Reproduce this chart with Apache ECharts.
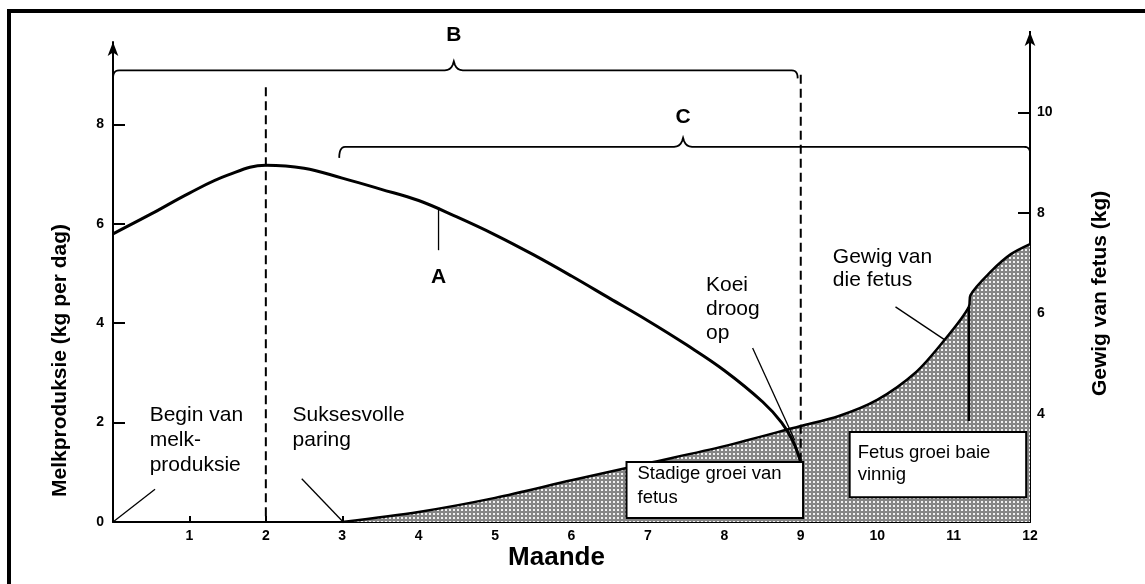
<!DOCTYPE html>
<html><head><meta charset="utf-8">
<script src="https://cdn.jsdelivr.net/npm/echarts@6/dist/echarts.min.js"></script>
<style>html,body{margin:0;padding:0;background:#fff}#c{width:1145px;height:584px}</style>
</head><body><div id="c"></div>
<script>
// ---- data ----
const milkMonths = [0,0.5,1,1.5,2,2.5,3,3.5,4,4.5,5,5.5,6,6.5,7,7.5,8,8.5,8.75,8.9,9];
const milkValues = [5.8,6.2,6.62,6.98,7.18,7.12,6.92,6.7,6.47,6.14,5.78,5.38,4.95,4.5,4.05,3.57,3.05,2.42,2.0,1.62,1.2];
const fetusMonths = [3,4,5,6,7,8,9,9.5,10,10.5,10.87,11.2,11.22,11.5,11.75,12];
const fetusKg = [1.85,2.05,2.33,2.68,3.02,3.36,3.76,3.96,4.28,4.82,5.45,6.13,6.36,6.85,7.18,7.38];
const milkTickLabels = [0,2,4,6,8];
const fetusTickLabels = [4,6,8,10];
const axisTitles = {x:'Maande', left:'Melkproduksie (kg per dag)', right:'Gewig van fetus (kg)'};
const dashedMarks = [[2, 8.75], [9, 9.0]];           // month, top (milk units)
const fetusMarkerLine = [11.2, 6.13, 3.86];           // month, top kg, bottom kg
const brackets = [
  {label:'B', from:0, to:8.96, mid:4.46, level:9.09, labelLevel:9.8, dropL:8, dropR:8},
  {label:'C', from:2.96, to:12, mid:7.46, level:7.55, labelLevel:8.15, dropL:11, dropR:6}
];
const annoTexts = ['Begin van\nmelk-\nproduksie','Suksesvolle\nparing','Koei\ndroog\nop','Gewig van\ndie fetus'];
const annoPos = [[0.48,2.40],[2.35,2.40],[7.76,5.01],[9.42,5.56]];
const annoLH = [25,25,24,23];
const leaders = [[[0,0],[0.55,0.66]],[[2.47,0.87],[3,0.02]],[[4.26,6.34],[4.26,5.47]],[[8.37,3.5],[8.92,1.65]],[[10.24,4.33],[10.89,3.66]]];
const labelA = {text:'A', pos:[4.26,4.93]};
const boxes = [
  {text:'Stadige groei van\nfetus', x0:6.72, x1:9.03, y0:1.21, y1:0.08, lh:24, pad:[11,0]},
  {text:'Fetus groei baie\nvinnig', x0:9.64, x1:11.95, y0:1.81, y1:0.5, lh:22, pad:[8,10]}
];

// ---- pattern ----
const pc = document.createElement('canvas');
pc.width = 4; pc.height = 4;
const pctx = pc.getContext('2d');
pctx.fillStyle = '#858585'; pctx.fillRect(0,0,4,4);
pctx.fillStyle = '#f0f0f0'; pctx.fillRect(1,1,2,2);

const FONT = '"Liberation Sans", Arial, sans-serif';
const chart = echarts.init(document.getElementById('c'), null, {renderer:'canvas'});

const zip = (a,b) => a.map((v,i)=>[v,b[i]]);
const series = [
  {type:'line', yAxisIndex:1, data:zip(fetusMonths,fetusKg), smooth:0.3, symbol:'none',
   lineStyle:{color:'#000', width:2.5}, areaStyle:{origin:'start', color:{image:pc, repeat:'repeat'}, opacity:1}, z:2},
  {type:'line', yAxisIndex:1, data:[[fetusMarkerLine[0],fetusMarkerLine[1]],[fetusMarkerLine[0],fetusMarkerLine[2]]], symbol:'none',
   lineStyle:{color:'#000', width:2.5}, z:3},
  {type:'line', yAxisIndex:0, data:zip(milkMonths,milkValues), smooth:0.4, symbol:'none',
   lineStyle:{color:'#000', width:3}, z:4}
];
dashedMarks.forEach(d=>series.push({type:'line', yAxisIndex:0, data:[[d[0],d[1]],[d[0],0]], symbol:'none',
  lineStyle:{color:'#000', width:2, type:[9,5]}, z:3}));

chart.setOption({
  animation:false,
  backgroundColor:'#fff',
  grid:{left:113, right:115, top:42, bottom:62, containLabel:false},
  xAxis:{type:'value', min:0, max:12, interval:1,
    axisLine:{lineStyle:{color:'#000', width:2}},
    axisTick:{inside:true, length:6, lineStyle:{color:'#000', width:2}},
    axisLabel:{showMinLabel:false, color:'#000', fontFamily:FONT, fontWeight:'bold', fontSize:14, margin:7},
    splitLine:{show:false}},
  yAxis:[
    {type:'value', min:0, max:9.66, interval:2, position:'left',
     axisLine:{show:true, symbol:['none','arrow'], symbolSize:[8,14], lineStyle:{color:'#000', width:2}},
     axisTick:{inside:true, length:12, customValues:milkTickLabels, lineStyle:{color:'#000', width:2}},
     axisLabel:{customValues:milkTickLabels, color:'#000', fontFamily:FONT, fontWeight:'bold', fontSize:14, margin:9},
     splitLine:{show:false}},
    {type:'value', min:1.85, max:11.4, position:'right',
     axisLine:{show:true, symbol:['none','arrow'], symbolSize:[8,14], symbolOffset:[0,10], lineStyle:{color:'#000', width:2}},
     axisTick:{inside:true, length:12, customValues:fetusTickLabels, lineStyle:{color:'#000', width:2}},
     axisLabel:{customValues:fetusTickLabels, color:'#000', fontFamily:FONT, fontWeight:'bold', fontSize:14, margin:7},
     splitLine:{show:false}}
  ],
  series
});

const P = (m,v) => chart.convertToPixel({xAxisIndex:0, yAxisIndex:0}, [m,v]);
const quad = (p0,c,p1,n) => { const out=[]; for(let i=0;i<=n;i++){const t=i/n,u=1-t; out.push([u*u*p0[0]+2*u*t*c[0]+t*t*p1[0], u*u*p0[1]+2*u*t*c[1]+t*t*p1[1]]);} return out; };
const g = [];
// outer frame
g.push({type:'rect', shape:{x:9, y:11, width:1300, height:800}, style:{fill:null, stroke:'#000', lineWidth:4}, z:200, silent:true});
// right axis extension (fills gap under offset arrow)
{
  const top = chart.convertToPixel({xAxisIndex:0, yAxisIndex:1}, [12, 11.4]);
  g.push({type:'line', shape:{x1:top[0], y1:top[1], x2:top[0], y2:top[1]-11}, style:{stroke:'#000', lineWidth:2}, z:50});
}
// axis titles
{
  const bx = P(6,0), by = P(0,0);
  g.push({type:'text', x:bx[0]-15, y:by[1]+36, style:{text:axisTitles.x, font:`bold 26px ${FONT}`, fill:'#000', align:'center', verticalAlign:'middle'}, z:50});
  const l = P(0, 3.25);
  g.push({type:'text', x:l[0]-53, y:l[1], rotation:Math.PI/2, style:{text:axisTitles.left, font:`bold 21px ${FONT}`, fill:'#000', align:'center', verticalAlign:'middle'}, z:50});
  const r = P(12, 4.6);
  g.push({type:'text', x:r[0]+70, y:r[1], rotation:Math.PI/2, style:{text:axisTitles.right, font:`bold 21px ${FONT}`, fill:'#000', align:'center', verticalAlign:'middle'}, z:50});
}
// brackets
brackets.forEach(b=>{
  const [x0,y] = P(b.from,b.level), [x1] = P(b.to,b.level), [xm] = P(b.mid,b.level);
  const r = 6;
  let pts = [];
  pts = pts.concat(quad([x0,y+b.dropL],[x0,y],[x0+r,y],6));
  pts = pts.concat(quad([xm-9,y],[xm-2,y],[xm,y-9],5));
  pts = pts.concat(quad([xm,y-9],[xm+2,y],[xm+9,y],5));
  pts = pts.concat(quad([x1-r,y],[x1,y],[x1,y+b.dropR],6));
  g.push({type:'polyline', shape:{points:pts}, style:{fill:null, stroke:'#000', lineWidth:1.8}, z:50});
  const [lx,ly] = P(b.mid,b.labelLevel);
  g.push({type:'text', x:lx, y:ly, style:{text:b.label, font:`bold 21px ${FONT}`, fill:'#000', align:'center', verticalAlign:'middle'}, z:50});
});
// leader lines
leaders.forEach(l=>{
  const a = P(l[0][0],l[0][1]), b = P(l[1][0],l[1][1]);
  g.push({type:'line', shape:{x1:a[0], y1:a[1], x2:b[0], y2:b[1]}, style:{stroke:'#000', lineWidth:1.3}, z:50});
});
// annotation texts
annoTexts.forEach((t,i)=>{
  const [x,y] = P(annoPos[i][0], annoPos[i][1]);
  g.push({type:'text', x, y, style:{text:t, font:`21px ${FONT}`, lineHeight:annoLH[i], fill:'#000', align:'left', verticalAlign:'top'}, z:50});
});
{
  const [x,y] = P(labelA.pos[0], labelA.pos[1]);
  g.push({type:'text', x, y, style:{text:labelA.text, font:`bold 21px ${FONT}`, fill:'#000', align:'center', verticalAlign:'middle'}, z:50});
}
// boxes
boxes.forEach(b=>{
  const [x0,y0] = P(b.x0,b.y0), [x1,y1] = P(b.x1,b.y1);
  g.push({type:'rect', shape:{x:x0, y:y0, width:x1-x0, height:y1-y0}, style:{fill:'#fff', stroke:'#000', lineWidth:2}, z:60});
  g.push({type:'text', x:x0+b.pad[0], y:y0+b.pad[1], style:{text:b.text, font:`18.5px ${FONT}`, lineHeight:b.lh, fill:'#000', align:'left', verticalAlign:'top'}, z:61});
});
chart.setOption({graphic:{elements:g}});
</script></body></html>
